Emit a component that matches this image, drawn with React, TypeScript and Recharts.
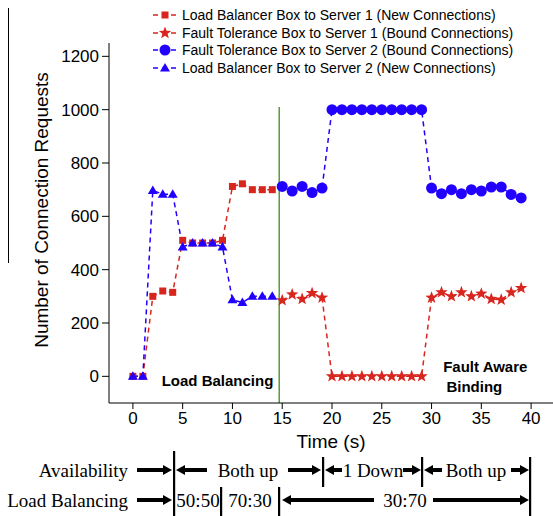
import React from 'react';
import { ComposedChart, Line, XAxis, YAxis, ReferenceLine, ReferenceDot, Label } from 'recharts';

// time axis (s)
const lbTimes = [0, 1, 2, 3, 4, 5, 6, 7, 8, 9, 10, 11, 12, 13, 14];
const ftTimes = [15, 16, 17, 18, 19, 20, 21, 22, 23, 24, 25, 26, 27, 28, 29, 30, 31, 32, 33, 34, 35, 36, 37, 38, 39];

// load balancer phase
const lbServer1 = [0, 0, 300, 320, 315, 510, 500, 500, 500, 510, 712, 722, 700, 700, 700];
const lbServer2 = [0, 0, 697, 683, 683, 485, 500, 500, 500, 485, 287, 277, 300, 300, 300];

// fault tolerance phase
const ftServer1 = [285, 307, 290, 312, 295, 0, 0, 0, 0, 0, 0, 0, 0, 0, 0, 295, 315, 300, 315, 300, 310, 290, 287, 315, 331];
const ftServer2 = [712, 695, 712, 689, 706, 1000, 1000, 1000, 1000, 1000, 1000, 1000, 1000, 1000, 1000, 706, 685, 700, 685, 700, 695, 710, 710, 682, 669];

const xTicks = [0, 5, 10, 15, 20, 25, 30, 35, 40];
const yTicks = [0, 200, 400, 600, 800, 1000, 1200];
const switchTime = 14.7;

const RED = '#d8261f';
const BLUE = '#2200ff';
const GREEN = '#5a9a3c';
const FONT = '"Liberation Sans", Arial, sans-serif';
const SERIF = '"Liberation Serif", "Times New Roman", serif';

const data = [...lbTimes, ...ftTimes].map(t => {
  const i = lbTimes.indexOf(t);
  const j = ftTimes.indexOf(t);
  return {
    t,
    lb1: i >= 0 ? lbServer1[i] : undefined,
    lb2: i >= 0 ? lbServer2[i] : undefined,
    ft1: j >= 0 ? ftServer1[j] : undefined,
    ft2: j >= 0 ? ftServer2[j] : undefined,
  };
});

const starPoints = (cx: number, cy: number, R: number, r: number) => {
  const pts: string[] = [];
  for (let k = 0; k < 10; k++) {
    const a = -Math.PI / 2 + (k * Math.PI) / 5;
    const rad = k % 2 === 0 ? R : r;
    pts.push(`${cx + rad * Math.cos(a)},${cy + rad * Math.sin(a)}`);
  }
  return pts.join(' ');
};

const Marker = ({ kind, cx, cy, color }: { kind: string; cx: number; cy: number; color: string }) => {
  if (kind === 'square') return <rect x={cx - 3.5} y={cy - 3.5} width={7} height={7} fill={color} />;
  if (kind === 'star') return <polygon points={starPoints(cx, cy, 6.5, 2.7)} fill={color} />;
  if (kind === 'circle') return <circle cx={cx} cy={cy} r={5.5} fill={color} />;
  return <polygon points={`${cx},${cy - 5} ${cx + 5},${cy + 3.5} ${cx - 5},${cy + 3.5}`} fill={color} />;
};

const makeDot = (kind: string, color: string) => (props: any) => {
  const { cx, cy, index } = props;
  if (cx == null || cy == null || Number.isNaN(cy)) return <g key={`e-${index}`} />;
  return (
    <g key={`d-${index}`}>
      <Marker kind={kind} cx={cx} cy={cy} color={color} />
    </g>
  );
};

const series = [
  { key: 'lb1', name: 'Load Balancer Box to Server 1 (New Connections)', color: RED, kind: 'square' },
  { key: 'ft1', name: 'Fault Tolerance Box to Server 1 (Bound Connections)', color: RED, kind: 'star' },
  { key: 'ft2', name: 'Fault Tolerance Box to Server 2 (Bound Connections)', color: BLUE, kind: 'circle' },
  { key: 'lb2', name: 'Load Balancer Box to Server 2 (New Connections)', color: BLUE, kind: 'triangle' },
];

const YLabel = (props: any) => {
  const { x, y, height } = props.viewBox;
  const cx = x + 41;
  const cy = y + height / 2 - 13;
  return (
    <text x={cx} y={cy} transform={`rotate(-90 ${cx} ${cy})`} textAnchor="middle" dominantBaseline="central"
      fontSize={19} fill="#000" fontFamily={FONT}>
      Number of Connection Requests
    </text>
  );
};

const Arrow = ({ x1, x2, y, head }: { x1: number; x2: number; y: number; head: 'left' | 'right' }) => {
  const hl = 9;
  const hw = 5;
  if (head === 'right') {
    return (
      <g>
        <rect x={x1} y={y - 2} width={x2 - x1 - hl + 1} height={4} fill="#000" />
        <polygon points={`${x2 - hl},${y - hw} ${x2},${y} ${x2 - hl},${y + hw}`} fill="#000" />
      </g>
    );
  }
  return (
    <g>
      <rect x={x1 + hl - 1} y={y - 2} width={x2 - x1 - hl + 1} height={4} fill="#000" />
      <polygon points={`${x1 + hl},${y - hw} ${x1},${y} ${x1 + hl},${y + hw}`} fill="#000" />
    </g>
  );
};

// timeline annotation under the chart
const row1 = 470;
const row2 = 500;
const arrows: { x1: number; x2: number; y: number; head: 'left' | 'right' }[] = [
  { x1: 137, x2: 172, y: row1, head: 'right' },
  { x1: 176, x2: 207, y: row1, head: 'left' },
  { x1: 288, x2: 321, y: row1, head: 'right' },
  { x1: 325, x2: 342, y: row1, head: 'left' },
  { x1: 403, x2: 421, y: row1, head: 'right' },
  { x1: 424, x2: 442, y: row1, head: 'left' },
  { x1: 511, x2: 529, y: row1, head: 'right' },
  { x1: 137, x2: 172, y: row2, head: 'right' },
  { x1: 282, x2: 374, y: row2, head: 'left' },
  { x1: 433, x2: 529, y: row2, head: 'right' },
];
const bars = [
  { x: 174, y1: 451, y2: 516 },
  { x: 323, y1: 457, y2: 487 },
  { x: 422, y1: 457, y2: 487 },
  { x: 530, y1: 457, y2: 516 },
  { x: 221, y1: 487, y2: 516 },
  { x: 279, y1: 487, y2: 516 },
];
const labels = [
  { x: 128, y: row1, text: 'Availability', anchor: 'end' },
  { x: 248, y: row1, text: 'Both up', anchor: 'middle' },
  { x: 373, y: row1, text: '1 Down', anchor: 'middle' },
  { x: 476, y: row1, text: 'Both up', anchor: 'middle' },
  { x: 128, y: row2, text: 'Load Balancing', anchor: 'end' },
  { x: 198, y: row2, text: '50:50', anchor: 'middle' },
  { x: 250, y: row2, text: '70:30', anchor: 'middle' },
  { x: 405, y: row2, text: '30:70', anchor: 'middle' },
];

export default function App() {
  return (
    <div style={{ position: 'absolute', left: 0, top: 0, width: 553, height: 516, background: '#fff', fontFamily: FONT }}>
      <ComposedChart width={553} height={456} data={data} margin={{ top: 43, right: 0, left: 0, bottom: 0 }}>
        <XAxis
          dataKey="t"
          type="number"
          domain={[-2.4, 42.2]}
          ticks={xTicks}
          allowDataOverflow
          height={53}
          stroke="#000"
          tickSize={6}
          tickMargin={3}
          tick={{ fill: '#000', fontSize: 17, fontFamily: FONT }}
        >
          <Label value="Time (s)" position="insideBottom" offset={8} fill="#000" fontSize={19} fontFamily={FONT} />
        </XAxis>
        <YAxis
          type="number"
          domain={[-100, 1250]}
          ticks={yTicks}
          allowDataOverflow
          width={109}
          stroke="#000"
          tickSize={7}
          tickMargin={3}
          tick={{ fill: '#000', fontSize: 17, fontFamily: FONT }}
          label={<Label content={YLabel} />}
        />
        <ReferenceLine
          segment={[{ x: switchTime, y: -100 }, { x: switchTime, y: 1010 }]}
          stroke={GREEN}
          strokeWidth={1.5}
        />
        {series.map(s => (
          <Line
            key={s.key}
            dataKey={s.key}
            type="linear"
            stroke={s.color}
            strokeWidth={1.5}
            strokeDasharray="5 4"
            connectNulls={false}
            dot={makeDot(s.kind, s.color)}
            activeDot={false}
            isAnimationActive={false}
          />
        ))}
        <ReferenceDot x={8.5} y={-18} r={0} fill="none" stroke="none"
          label={{ value: 'Load Balancing', position: 'center', fill: '#000', fontSize: 15, fontWeight: 'bold', fontFamily: FONT }} />
        <ReferenceDot x={35.4} y={35} r={0} fill="none" stroke="none"
          label={{ value: 'Fault Aware', position: 'center', fill: '#000', fontSize: 15, fontWeight: 'bold', fontFamily: FONT }} />
        <ReferenceDot x={34.3} y={-40} r={0} fill="none" stroke="none"
          label={{ value: 'Binding', position: 'center', fill: '#000', fontSize: 15, fontWeight: 'bold', fontFamily: FONT }} />
      </ComposedChart>

      {/* legend */}
      <div style={{ position: 'absolute', left: 153, top: 6 }}>
        {series.map(s => (
          <div key={s.key} style={{ display: 'flex', alignItems: 'center', height: 17.7 }}>
            <svg width={29} height={16}>
              <line x1={0} y1={8} x2={24} y2={8} stroke={s.color} strokeWidth={1.5} strokeDasharray="5 4" />
              <Marker kind={s.kind} cx={12} cy={8} color={s.color} />
            </svg>
            <span style={{ fontSize: 14, color: '#000', whiteSpace: 'nowrap' }}>{s.name}</span>
          </div>
        ))}
      </div>

      {/* stray rule at far left and the timeline annotation */}
      <svg width={553} height={516} style={{ position: 'absolute', left: 0, top: 0, pointerEvents: 'none' }}>
        <line x1={8.5} y1={8} x2={8.5} y2={263} stroke="#000" strokeWidth={1} />
        {arrows.map((a, i) => <Arrow key={`a${i}`} {...a} />)}
        {bars.map((b, i) => <rect key={`b${i}`} x={b.x - 1} y={b.y1} width={2.2} height={b.y2 - b.y1} fill="#000" />)}
        {labels.map((l, i) => (
          <text key={`l${i}`} x={l.x} y={l.y} textAnchor={l.anchor as any} dominantBaseline="central"
            fontFamily={SERIF} fontSize={19} fill="#000">
            {l.text}
          </text>
        ))}
      </svg>
    </div>
  );
}
